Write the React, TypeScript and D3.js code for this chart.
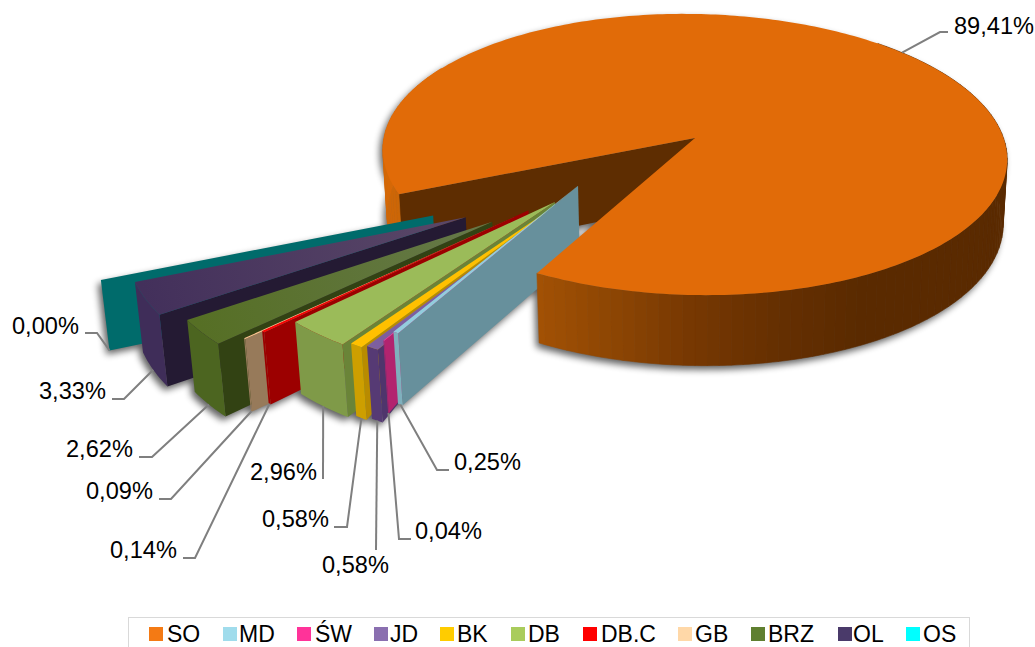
import React from "react";
import * as d3 from "d3";

const categories = ["SO", "MD", "ŚW", "JD", "BK", "DB", "DB.C", "GB", "BRZ", "OL", "OS"];
const shares = [89.41, 0.25, 0.04, 0.58, 0.58, 2.96, 0.14, 0.09, 2.62, 3.33, 0.0];

// pie layout (d3.pie), exploded per slice in plan units of one radius
const firstAngleDeg = 245.3;
const explodeU = [0, -0.362, -0.382, -0.3915, -0.4055, -0.428, -0.505, -0.544, -0.609, -0.691, -0.79];
const explodeV = [0, 0.344, 0.392, 0.44, 0.447, 0.453, 0.509, 0.553, 0.584, 0.559, 0.551];
// depth of the cut wall at the apex (thin slices hidden behind their neighbour taper away)
const apexDepth = [1, 1, 0, 0, 0, 1, 1, 1, 1, 1, 1];

// colours
const legendColors = ["#f47a14", "#a0dcec", "#ff3399", "#8a6fb0", "#ffcc00", "#a9cc5c", "#ff0000", "#ffd8a8", "#5f7f30", "#4a3a6a", "#00ffff"];
const topFront = ["#e16b08", "#93cddd", "#ff3399", "#7d5f9f", "#ffc000", "#9bbb59", "#ff0000", "#fac090", "#566f25", "#43305b", "#008080"];
const topBack = ["#e16b08", "#93cddd", "#ff3399", "#7d5f9f", "#ffc000", "#9bbb59", "#c00000", "#fac090", "#66794a", "#5a4868", "#008080"];
const outerWall = ["#a85504", "#7fb0bd", "#b2246f", "#563a74", "#cd9f00", "#7f9a48", "#9c0000", "#977a5a", "#4c6520", "#3f2d59", "#006b6b"];
const cutWall = ["#5e2d01", "#67909c", "#b2246f", "#4f356c", "#b88b00", "#6a8438", "#9c0000", "#977a5a", "#324213", "#241a33", "#006b6b"];
const soWallColor = d3
  .scaleLinear<string>()
  .domain([40, 150, 165, 180, 192, 207, 246, 300])
  .range(["#5a2a00", "#5a2a00", "#652f01", "#773802", "#8c4503", "#a45204", "#cc6607", "#e16b08"]);

// label layout
const labelX = [954, 454, 415, 322, 262, 250, 110, 86, 66, 39, 12];
const labelY = [34, 470, 539, 573, 527, 480, 558, 499, 457, 399, 334];
const kneeX = [940, 437, 399, 376, 347, 323, 195, 171, 152, 124, 97];
const kneeY = [32, 470, 539, 550, 527, 479, 558, 499, 457, 399, 333];
const tailX = [948, 449, 411, 376, 334, 323, 183, 159, 139, 112, 85];
const legendMarkerX = [149, 223, 297, 374, 440, 511, 583, 678, 751, 838, 906];
const legendTextX = [167, 239, 315, 390, 457, 528, 601, 695, 768, 853, 923];

const FONT = "'Liberation Sans', Arial, sans-serif";
const W = 1035;
const H = 647;
const deg = Math.PI / 180;

// perspective of the pie plane: u right, v toward viewer, z down (0..1)
const cx = 695;
const A = 310;
const B = 122.4;
const C = 138;
const E = 67;
const K = 5;
const persp = -0.1174;
const zPersp = 0.013;
function project(u: number, v: number, z: number): [number, number] {
  const f = 1 + persp * v + zPersp * z;
  return [cx + (A * u) / f, (B * v + C + K * u + E * z) / f];
}

const arcs = d3
  .pie<number>()
  .value((d) => d)
  .sort(null)
  .startAngle(firstAngleDeg * deg)
  .endAngle(firstAngleDeg * deg + 2 * Math.PI)(shares);

const closed = d3.line<[number, number]>().curve(d3.curveLinearClosed);

function rim(i: number, t: number, z: number): [number, number] {
  return project(explodeU[i] + Math.sin(t), explodeV[i] - Math.cos(t), z);
}
function apex(i: number, z: number): [number, number] {
  return project(explodeU[i], explodeV[i], z);
}
function angleSteps(a: number, b: number, n: number): number[] {
  return d3.range(n + 1).map((k) => a + ((b - a) * k) / n);
}
function topPath(i: number): string {
  const a = arcs[i];
  const n = Math.max(2, Math.ceil((a.endAngle - a.startAngle) / deg));
  return closed([apex(i, 0), ...angleSteps(a.startAngle, a.endAngle, n).map((t) => rim(i, t, 0))]) as string;
}
function stripPath(i: number, a: number, b: number): string {
  const n = Math.max(2, Math.ceil(Math.abs(b - a) / deg));
  const ts = angleSteps(a, b, n);
  return closed([...ts.map((t) => rim(i, t, 0)), ...ts.slice().reverse().map((t) => rim(i, t, 1))]) as string;
}
function cutPath(i: number, t: number): string {
  return closed([apex(i, 0), rim(i, t, 0), rim(i, t, 1), apex(i, apexDepth[i])]) as string;
}
const frontEdge = (i: number) => arcs[i].startAngle;

const soStart = arcs[0].startAngle;
const soEnd = arcs[0].endAngle;
const smallIdx = d3.range(1, categories.length).reverse();

function SoWall({ from, to }: { from: number; to: number }) {
  const ts = d3.range(from, to, 2);
  return (
    <g>
      {ts.map((t) => {
        const c = soWallColor(((t % 360) + 360) % 360);
        return <path key={t} d={stripPath(0, t * deg, Math.min(t + 2, to) * deg)} fill={c} stroke={c} strokeWidth={0.6} />;
      })}
    </g>
  );
}

export default function App() {
  const pct = (v: number) => d3.format(".2f")(v).replace(".", ",") + "%";
  const silhouettes = d3.range(categories.length).map((i) => {
    const a = arcs[i];
    if (i === 0) return [topPath(0), stripPath(0, 400 * deg, soEnd), cutPath(0, soStart), stripPath(0, soStart, 300 * deg)];
    return [topPath(i), cutPath(i, a.startAngle), stripPath(i, a.startAngle, a.endAngle + 0.001)];
  });
  return (
    <svg width={W} height={H} viewBox={`0 0 ${W} ${H}`} style={{ position: "fixed", left: 0, top: 0, background: "#fff" }}>
      <defs>
        <filter id="soft" x="-10%" y="-10%" width="120%" height="120%">
          <feGaussianBlur stdDeviation="3.5" />
        </filter>
        {d3.range(1, categories.length).map((i) => {
          const p = apex(i, 0);
          const q = rim(i, (arcs[i].startAngle + arcs[i].endAngle) / 2, 0);
          return (
            <linearGradient key={i} id={`top${i}`} gradientUnits="userSpaceOnUse" x1={q[0]} y1={q[1]} x2={p[0]} y2={p[1]}>
              <stop offset="0" stopColor={topFront[i]} />
              <stop offset="1" stopColor={topBack[i]} />
            </linearGradient>
          );
        })}
      </defs>

      {/* soft shadow on the page */}
      <g filter="url(#soft)" transform="translate(-3,4)" opacity={0.62}>
        {silhouettes.flat().map((d, k) => (
          <path key={k} d={d} fill="#000" />
        ))}
      </g>

      {/* rear of the large slice */}
      <path d={cutPath(0, soStart)} fill={cutWall[0]} />
      <SoWall from={firstAngleDeg} to={300} />

      {/* exploded slices, back to front */}
      {smallIdx.map((i) => {
        const a = arcs[i];
        return (
          <g key={categories[i]}>
            <path d={cutPath(i, frontEdge(i))} fill={cutWall[i]} />
            {a.endAngle - a.startAngle > 0 && <path d={stripPath(i, a.startAngle, a.endAngle)} fill={outerWall[i]} />}
            {a.endAngle - a.startAngle > 0 && <path d={topPath(i)} fill={`url(#top${i})`} />}
          </g>
        );
      })}

      {/* front of the large slice */}
      <SoWall from={400} to={soEnd / deg} />
      <path d={topPath(0)} fill={topFront[0]} />

      {/* leader lines */}
      {categories.map((c, i) => {
        const t = (arcs[i].startAngle + arcs[i].endAngle) / 2;
        const p = rim(i, t, i === 0 ? 0 : 1);
        return (
          <path
            key={c}
            d={d3.line()([p, [kneeX[i], kneeY[i]], [tailX[i], kneeY[i]]]) as string}
            fill="none"
            stroke="#7f7f7f"
            strokeWidth={2}
          />
        );
      })}
      {shares.map((v, i) => (
        <text key={categories[i]} x={labelX[i]} y={labelY[i]} fontFamily={FONT} fontSize={23.6} fill="#000">
          {pct(v)}
        </text>
      ))}

      {/* legend */}
      <rect x={128.5} y={617.5} width={841} height={40} fill="#fff" stroke="#d9d9d9" strokeWidth={1} />
      {categories.map((c, i) => (
        <g key={c}>
          <rect x={legendMarkerX[i]} y={627} width={14} height={14} fill={legendColors[i]} />
          <text x={legendTextX[i]} y={641.5} fontFamily={FONT} fontSize={23} fill="#000">
            {c}
          </text>
        </g>
      ))}
    </svg>
  );
}
